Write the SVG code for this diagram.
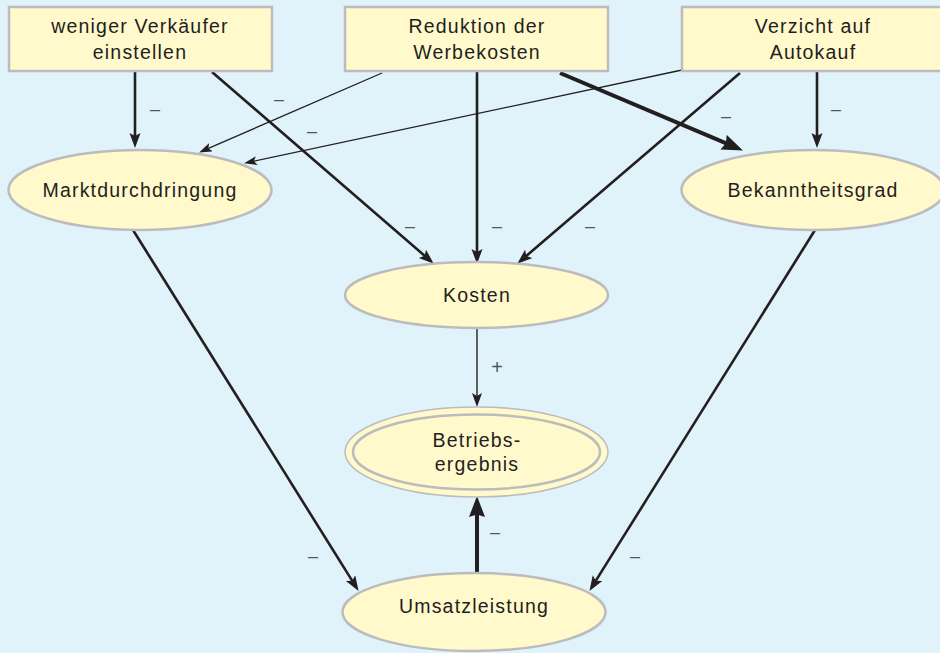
<svg xmlns="http://www.w3.org/2000/svg" width="940" height="653" viewBox="0 0 940 653">
<style>
.bg{fill:#e0f3fb}
.box{fill:#fff9cc;stroke:#bcbcbc;stroke-width:2.5}
.ell{fill:#fff9cc;stroke:#bcbcbc;stroke-width:2.5}
.t{font-family:"Liberation Sans",Arial,sans-serif;font-size:19.5px;letter-spacing:1.2px;fill:#231f20;text-anchor:middle}
.lbl{font-family:"Liberation Sans",Arial,sans-serif;font-size:18px;fill:#555;text-anchor:middle}
.c{fill:none;stroke:#231f20;stroke-linecap:butt}
.thick{stroke-width:2.6;marker-end:url(#mThick)}
.big{stroke-width:4;marker-end:url(#mBig)}
.thin{stroke-width:1.3;marker-end:url(#mThin)}
.mid{stroke-width:1.6;stroke:#3a3a3a;marker-end:url(#mMid)}
</style>
<defs>
<marker id="mThick" markerUnits="userSpaceOnUse" markerWidth="16" markerHeight="12" refX="7" refY="5.5" orient="auto"><path d="M0,0 L15,5.5 L0,11 L3,5.5 z" fill="#231f20"/></marker>
<marker id="mBig" markerUnits="userSpaceOnUse" markerWidth="22" markerHeight="18" refX="10" refY="8" orient="auto"><path d="M0,0 L21,8 L0,16 L2.5,8 z" fill="#231f20"/></marker>
<marker id="mThin" markerUnits="userSpaceOnUse" markerWidth="14" markerHeight="10" refX="6" refY="4.5" orient="auto"><path d="M0,0 L13,4.5 L0,9 L3,4.5 z" fill="#231f20"/></marker>
<marker id="mMid" markerUnits="userSpaceOnUse" markerWidth="15" markerHeight="11" refX="6" refY="5" orient="auto"><path d="M0,0 L14,5 L0,10 L3,5 z" fill="#231f20"/></marker>
</defs>
<rect class="bg" x="0" y="0" width="940" height="653"/>

<g id="connectors">
<path class="c thick" d="M135,72 L135,140"/>
<path class="c thick" d="M212,72 L427.7,258.4"/>
<path class="c thin" d="M382,73 L205.5,149.6"/>
<path class="c thin" d="M682,70 L250.9,161.8"/>
<path class="c thick" d="M477,72 L477,256"/>
<path class="c big" d="M560,73 L732.8,146.1"/>
<path class="c thick" d="M740,73 L523.3,258.5"/>
<path class="c thick" d="M817,72 L817,140"/>
<path class="c mid" d="M477,328 L477,399"/>
<path class="c thick" d="M133,230 L354.3,584.1"/>
<path class="c thick" d="M815,230 L593.7,584.1"/>
<path class="c big" d="M477,572 L477,507"/>
<text class="lbl" x="155" y="115">–</text>
<text class="lbl" x="279" y="105">–</text>
<text class="lbl" x="312" y="137">–</text>
<text class="lbl" x="410" y="232">–</text>
<text class="lbl" x="497" y="232">–</text>
<text class="lbl" x="590" y="232">–</text>
<text class="lbl" x="726" y="122">–</text>
<text class="lbl" x="836" y="115">–</text>
<text class="lbl" x="497" y="374" style="font-size:20px">+</text>
<text class="lbl" x="313" y="562">–</text>
<text class="lbl" x="635" y="562">–</text>
<text class="lbl" x="495" y="538">–</text>
</g>

<g id="n-verkaeufer">
<rect class="box" x="9" y="7" width="263" height="64"/>
<text class="t" x="140" y="33">weniger Verkäufer</text>
<text class="t" x="140" y="59">einstellen</text>
</g>
<g id="n-werbekosten">
<rect class="box" x="345" y="7" width="263" height="64"/>
<text class="t" x="477" y="33">Reduktion der</text>
<text class="t" x="477" y="59">Werbekosten</text>
</g>
<g id="n-autokauf">
<rect class="box" x="682" y="7" width="263" height="64"/>
<text class="t" x="813" y="33">Verzicht auf</text>
<text class="t" x="813" y="59">Autokauf</text>
</g>
<g id="n-markt">
<ellipse class="ell" cx="140" cy="190" rx="131.5" ry="40"/>
<text class="t" x="140" y="197">Marktdurchdringung</text>
</g>
<g id="n-bekannt">
<ellipse class="ell" cx="813" cy="190" rx="131.5" ry="40"/>
<text class="t" x="813" y="197">Bekanntheitsgrad</text>
</g>
<g id="n-kosten">
<ellipse class="ell" cx="476.5" cy="295" rx="131.5" ry="33"/>
<text class="t" x="477" y="302">Kosten</text>
</g>
<g id="n-betrieb">
<ellipse class="ell" cx="476.5" cy="452" rx="131.5" ry="45" style="stroke-width:1.5"/>
<ellipse cx="476.5" cy="452" rx="123.5" ry="37.5" fill="none" stroke="#bcbcbc" stroke-width="2.5"/>
<text class="t" x="477" y="447">Betriebs-</text>
<text class="t" x="477" y="471">ergebnis</text>
</g>
<g id="n-umsatz">
<ellipse class="ell" cx="474" cy="612" rx="131.5" ry="39"/>
<text class="t" x="474" y="613">Umsatzleistung</text>
</g>
</svg>
